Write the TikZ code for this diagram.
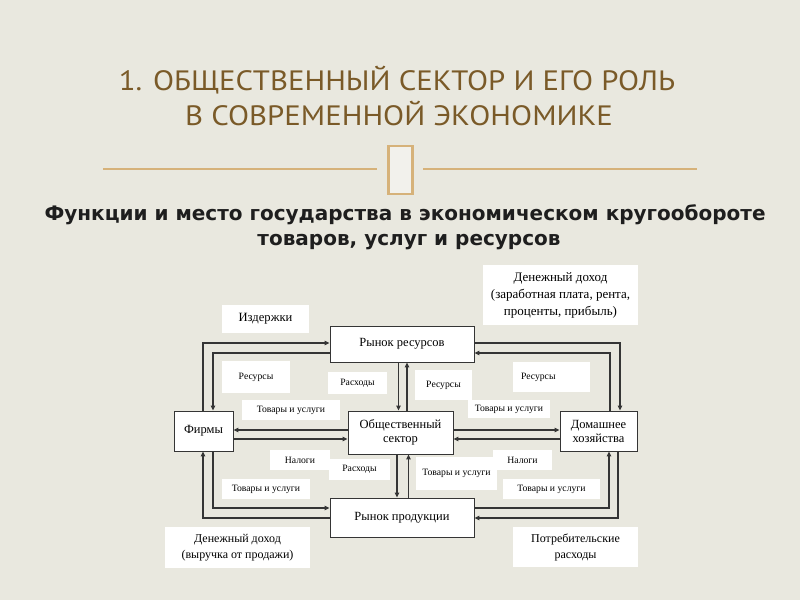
\documentclass[tikz,border=0pt]{standalone}
\usepackage{fontspec}
\usepackage{graphicx}
\setmainfont{Liberation Serif}
\newfontfamily\titlefont{PT Sans}
\newfontfamily\subfont{DejaVu Sans}
\usetikzlibrary{arrows.meta}
\definecolor{bg}{HTML}{E9E8DF}
\definecolor{titlecol}{HTML}{7A5A28}
\definecolor{tan}{HTML}{D6B27A}
\definecolor{linecol}{HTML}{353535}
\definecolor{subcol}{HTML}{1E1E1E}
\tikzset{
  mainbox/.style={draw=linecol, fill=white, line width=0.9pt, inner sep=0pt, align=center, font=\fontsize{12.5}{14}\selectfont},
  lab/.style={fill=white, inner sep=0pt, align=center, font=\fontsize{9.7}{11}\selectfont},
  biglab/.style={fill=white, inner sep=0pt, align=center, font=\fontsize{12}{16}\selectfont},
  arr/.style={draw=linecol, line width=1.6pt, -{Triangle[length=5pt,width=4.5pt]}},
}
\begin{document}
\begin{tikzpicture}[x=1pt,y=-1pt]
\fill[bg] (0,0) rectangle (800,600);
\useasboundingbox (0,0) rectangle (800,600);
% title
\node[text=titlecol, font=\titlefont\fontsize{28}{30}\selectfont] (t1) at (397,80) {\scalebox{1.1}[1]{1. ОБЩЕСТВЕННЫЙ СЕКТОР И ЕГО РОЛЬ}};
\node[text=titlecol, font=\titlefont\fontsize{28}{30}\selectfont] (t2) at (399,113) {\scalebox{1.1}[1]{В СОВРЕМЕННОЙ ЭКОНОМИКЕ}};
% decorative line
\coordinate (l1) at (103,169);
\coordinate (l2) at (377,169);
\coordinate (r1) at (423,169);
\coordinate (r2) at (697,169);
\draw[tan, line width=1.1pt] (l1) -- (l2);
\draw[tan, line width=1.1pt] (r1) -- (r2);
\node[draw=tan, line width=2.5pt, fill=bg!60!white, minimum width=24pt, minimum height=48pt, inner sep=0pt] (glyph) at (400.5,170) {};
% subtitle
\node[text=subcol, font=\subfont\bfseries\fontsize{20}{22}\selectfont] (s1) at (405,215) {Функции и место государства в экономическом кругообороте};
\node[text=subcol, font=\subfont\bfseries\fontsize{20}{22}\selectfont] (s2) at (409,242) {товаров, услуг и ресурсов};
% labels
\node[lab, font=\fontsize{12.6}{14}\selectfont, minimum width=87pt, minimum height=28pt] (izd) at (265.5,319) {Издержки};
\node[biglab, font=\fontsize{13}{17}\selectfont, minimum width=155pt, minimum height=60pt] (dd1) at (560.5,295) {Денежный доход\\(заработная плата, рента,\\проценты, прибыль)};
\node[lab, minimum width=68pt, minimum height=32pt] (resL) at (256,377) {Ресурсы};
\node[lab, minimum width=59pt, minimum height=22pt] (rasT) at (357.5,383) {Расходы};
\node[lab, minimum width=57pt, minimum height=30pt] (resM) at (443.5,385) {Ресурсы};
\node[lab, minimum width=77pt, minimum height=30pt, text width=61pt, inner xsep=8pt, align=left] (resR) at (551.5,377) {Ресурсы};
\node[lab, minimum width=98pt, minimum height=20pt] (tuUL) at (291,410) {Товары и услуги};
\node[lab, minimum width=82pt, minimum height=18pt] (tuUR) at (509,409) {Товары и услуги};
\node[lab, minimum width=60pt, minimum height=20pt] (nalL) at (300,460) {Налоги};
\node[lab, minimum width=61pt, minimum height=21pt] (rasL) at (359.5,469.5) {Расходы};
\node[lab, minimum width=81pt, minimum height=33pt] (tuM) at (456.5,473.5) {Товары и услуги};
\node[lab, minimum width=59pt, minimum height=20pt] (nalR) at (522.5,460) {Налоги};
\node[lab, minimum width=97pt, minimum height=20pt] (tuLR) at (551.5,489) {Товары и услуги};
\node[lab, minimum width=88pt, minimum height=20pt] (tuLB) at (266,489) {Товары и услуги};
\node[biglab, minimum width=145pt, minimum height=41pt] (dd2) at (237.5,547.5) {Денежный доход\\(выручка от продажи)};
\node[biglab, minimum width=125pt, minimum height=40pt] (pr) at (575.5,547) {Потребительские\\расходы};
% main boxes
\node[mainbox, minimum width=144pt, minimum height=36pt] (RR) at (402,344) {Рынок ресурсов};
\node[mainbox, minimum width=59pt, minimum height=40pt] (F) at (203.5,431) {Фирмы};
\node[mainbox, minimum width=105pt, minimum height=43pt] (OS) at (400.5,432.5) {Общественный\\сектор};
\node[mainbox, minimum width=77pt, minimum height=40pt] (DH) at (598.5,431) {Домашнее\\хозяйства};
\node[mainbox, minimum width=144pt, minimum height=39pt] (RP) at (402,517.5) {Рынок продукции};
% connectors: firms - resource market
\draw[arr] ([xshift=-0.5pt]F.north) |- ([yshift=1pt]RR.west);
\draw[arr] ([yshift=-9pt]RR.west) -| ([xshift=9.5pt]F.north);
% households - resource market
\draw[arr] ([yshift=1pt]RR.east) -| ([xshift=21.5pt]DH.north);
\draw[arr] ([xshift=11.5pt]DH.north) |- ([yshift=-9pt]RR.east);
% firms - product market
\draw[arr] ([yshift=-0.5pt]RP.west) -| ([xshift=-0.5pt]F.south);
\draw[arr] ([xshift=9.5pt]F.south) |- ([yshift=9.5pt]RP.west);
% households - product market
\draw[arr] ([yshift=9.5pt]RP.east) -| ([xshift=10.5pt]DH.south);
\draw[arr] ([xshift=19.5pt]DH.south) |- ([yshift=-0.5pt]RP.east);
% public sector - firms
\draw[arr] ([yshift=2.5pt]OS.west) -- ([yshift=2.5pt]OS.west -| F.east);
\draw[arr] ([yshift=-6.5pt]OS.west -| F.east) -- ([yshift=-6.5pt]OS.west);
% public sector - households
\draw[arr] ([yshift=2.5pt]OS.east) -- ([yshift=2.5pt]OS.east -| DH.west);
\draw[arr] ([yshift=-6.5pt]OS.east -| DH.west) -- ([yshift=-6.5pt]OS.east);
% public sector - resource market
\draw[arr] ([xshift=-3.5pt]RR.south) -- ([xshift=-3.5pt]RR.south |- OS.north);
\draw[arr] ([xshift=6.5pt]OS.north) -- ([xshift=6.5pt]OS.north |- RR.south);
% public sector - product market
\draw[arr] ([xshift=-3.5pt]OS.south) -- ([xshift=-3.5pt]OS.south |- RP.north);
\draw[arr] ([xshift=6.5pt]RP.north) -- ([xshift=6.5pt]RP.north |- OS.south);
\end{tikzpicture}
\end{document}
